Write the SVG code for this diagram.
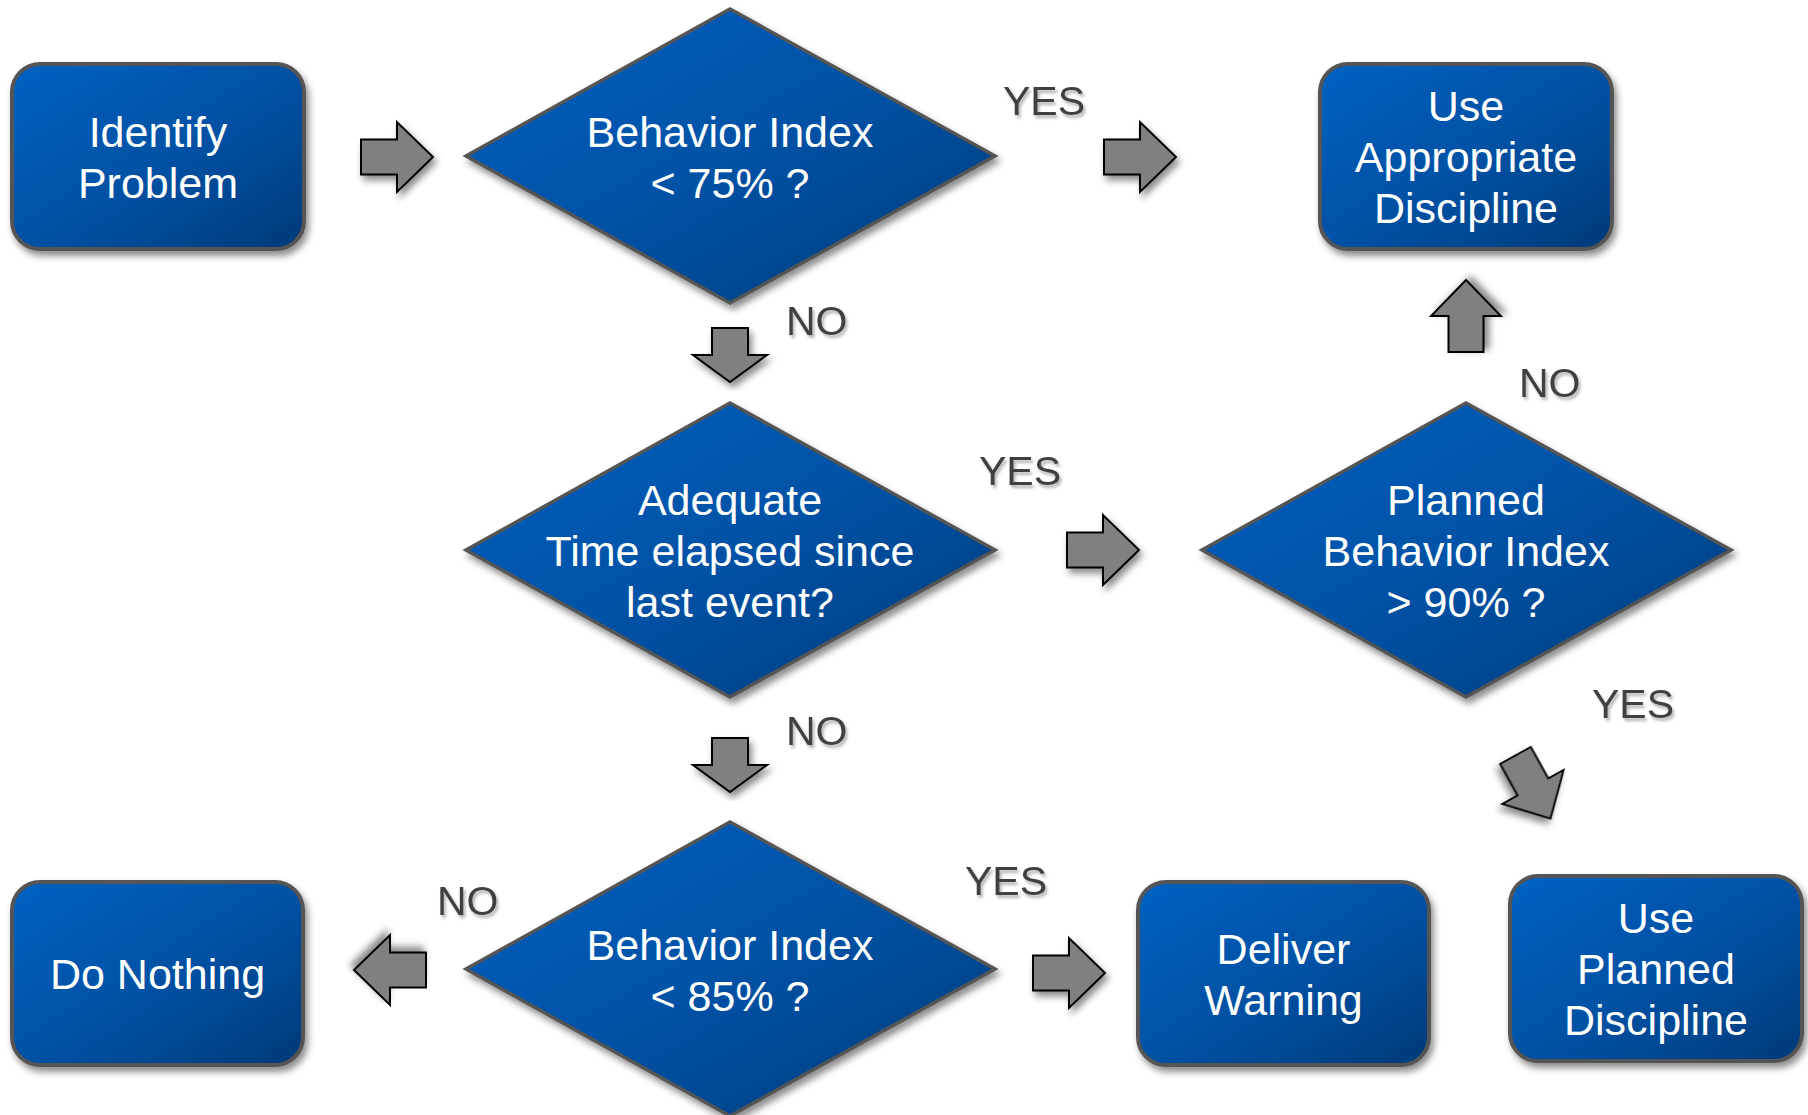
<svg xmlns="http://www.w3.org/2000/svg" width="1808" height="1115" viewBox="0 0 1808 1115">
<defs>
<linearGradient id="blue" x1="0" y1="0" x2="1" y2="1">
<stop offset="0" stop-color="#0062C2"/>
<stop offset="0.55" stop-color="#0050A2"/>
<stop offset="1" stop-color="#003A78"/>
</linearGradient>
<filter id="sh" x="-10%" y="-10%" width="125%" height="125%">
<feDropShadow dx="3" dy="5" stdDeviation="3.5" flood-color="#000" flood-opacity="0.45"/>
</filter>
<filter id="tsh" x="-10%" y="-20%" width="130%" height="150%">
<feDropShadow dx="2" dy="3" stdDeviation="1.5" flood-color="#000" flood-opacity="0.3"/>
</filter>
<polygon id="arr" points="-36,-17.5 0,-17.5 0,-35 36,0 0,35 0,17.5 -36,17.5"/>
<polygon id="darr" points="-18,-27 18,-27 18,0 37,0 0,27 -37,0 -18,0"/>
</defs>
<style>
.box{fill:url(#blue);stroke:#555;stroke-width:4;filter:url(#sh)}
.dia{fill:url(#blue);stroke:#555;stroke-width:3.5;stroke-linejoin:miter;filter:url(#sh)}
.nt{font-family:"Liberation Sans",Arial,sans-serif;font-size:43px;fill:#fff;text-anchor:middle}
.lb{font-family:"Liberation Sans",Arial,sans-serif;font-size:41px;fill:#404040;filter:url(#tsh)}
.ar{fill:#808080;stroke:#000;stroke-width:2;stroke-linejoin:miter;filter:url(#sh)}
</style>
<rect width="1808" height="1115" fill="#fff"/>

<g id="connectors">
<use href="#arr" class="ar" transform="translate(397,157)"/>
<use href="#arr" class="ar" transform="translate(1140,157)"/>
<use href="#darr" class="ar" transform="translate(730,355)"/>
<use href="#darr" class="ar" transform="translate(730,765)"/>
<use href="#arr" class="ar" transform="translate(1103,550)"/>
<use href="#arr" class="ar" transform="translate(1466,316) rotate(-90)"/>
<use href="#arr" class="ar" transform="translate(1533,787) rotate(61)"/>
<use href="#arr" class="ar" transform="translate(390,970) rotate(180)"/>
<use href="#arr" class="ar" transform="translate(1069,973)"/>
<text class="lb" x="1003" y="115">YES</text>
<text class="lb" x="786" y="335">NO</text>
<text class="lb" x="979" y="485">YES</text>
<text class="lb" x="1519" y="397">NO</text>
<text class="lb" x="786" y="745">NO</text>
<text class="lb" x="1592" y="718">YES</text>
<text class="lb" x="965" y="895">YES</text>
<text class="lb" x="437" y="915">NO</text>
</g>

<g id="identify">
<rect class="box" x="12" y="64" width="292" height="185" rx="28"/>
<text class="nt" x="158" y="147">Identify</text>
<text class="nt" x="158" y="198">Problem</text>
</g>

<g id="d1">
<polygon class="dia" points="730,9 995,156 730,303 466,156"/>
<text class="nt" x="730" y="147">Behavior Index</text>
<text class="nt" x="730" y="198">&lt; 75% ?</text>
</g>

<g id="appropriate">
<rect class="box" x="1320" y="64" width="292" height="185" rx="28"/>
<text class="nt" x="1466" y="121">Use</text>
<text class="nt" x="1466" y="172">Appropriate</text>
<text class="nt" x="1466" y="223">Discipline</text>
</g>

<g id="d2">
<polygon class="dia" points="730,403 995,550 730,697 466,550"/>
<text class="nt" x="730" y="515">Adequate</text>
<text class="nt" x="730" y="566">Time elapsed since</text>
<text class="nt" x="730" y="617">last event?</text>
</g>

<g id="d3">
<polygon class="dia" points="1466,403 1731,550 1466,697 1202,550"/>
<text class="nt" x="1466" y="515">Planned</text>
<text class="nt" x="1466" y="566">Behavior Index</text>
<text class="nt" x="1466" y="617">&gt; 90% ?</text>
</g>

<g id="d4">
<polygon class="dia" points="730,822 995,969 730,1116 466,969"/>
<text class="nt" x="730" y="960">Behavior Index</text>
<text class="nt" x="730" y="1011">&lt; 85% ?</text>
</g>

<g id="donothing">
<rect class="box" x="12" y="882" width="291" height="183" rx="28"/>
<text class="nt" x="157.5" y="989">Do Nothing</text>
</g>

<g id="warning">
<rect class="box" x="1138" y="882" width="291" height="183" rx="28"/>
<text class="nt" x="1283.5" y="964">Deliver</text>
<text class="nt" x="1283.5" y="1015">Warning</text>
</g>

<g id="planned">
<rect class="box" x="1510" y="876" width="292" height="185" rx="28"/>
<text class="nt" x="1656" y="933">Use</text>
<text class="nt" x="1656" y="984">Planned</text>
<text class="nt" x="1656" y="1035">Discipline</text>
</g>
</svg>
